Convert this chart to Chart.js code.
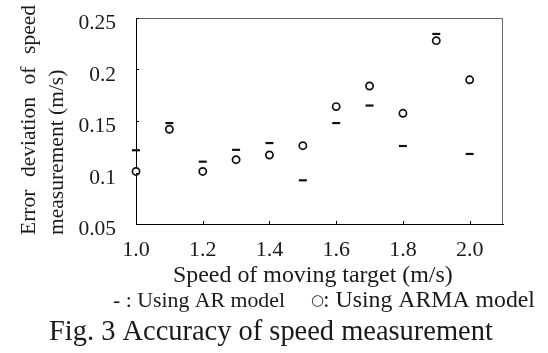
<!DOCTYPE html>
<html>
<head>
<meta charset="utf-8">
<script src="https://cdn.jsdelivr.net/npm/chart.js@4.4.0/dist/chart.umd.min.js"></script>
<style>
body { margin: 0; background: #fff; }
</style>
</head>
<body>
<canvas id="speedChart" width="548" height="353"></canvas>
<script>
var speeds = [1.0, 1.1, 1.2, 1.3, 1.4, 1.5, 1.6, 1.7, 1.8, 1.9, 2.0];
var arError = [0.1216, 0.148, 0.1105, 0.122, 0.1286, 0.0924, 0.148, 0.165, 0.1257, 0.2345, 0.118];
var armaError = [0.101, 0.142, 0.101, 0.1124, 0.117, 0.126, 0.164, 0.184, 0.1575, 0.228, 0.190];
var xTicks = [1.0, 1.2, 1.4, 1.6, 1.8, 2.0];
var xTickLabels = ['1.0', '1.2', '1.4', '1.6', '1.8', '2.0'];
var yTicks = [0.05, 0.1, 0.15, 0.2, 0.25];
var yTickLabels = ['0.05', '0.1', '0.15', '0.2', '0.25'];

var FONT = '"Liberation Serif", "Times New Roman", serif';

function toPoints(xs, ys) {
    return xs.map(function (x, i) { return { x: x, y: ys[i] }; });
}

// shrink/grow font so the text spans the given width
function fitFont(ctx, text, target, base) {
    ctx.font = base + 'px ' + FONT;
    var w = ctx.measureText(text).width;
    var size = base * target / w;
    ctx.font = size + 'px ' + FONT;
    return size;
}

var paperText = {
    id: 'paperText',
    afterDraw: function (chart) {
        var ctx = chart.ctx;
        var area = chart.chartArea;
        var xs = chart.scales.x, ys = chart.scales.y;
        ctx.save();

        // top and right frame
        ctx.strokeStyle = '#666';
        ctx.lineWidth = 1;
        ctx.beginPath();
        ctx.moveTo(area.left, area.top + 0.5);
        ctx.lineTo(area.right - 0.5, area.top + 0.5);
        ctx.lineTo(area.right - 0.5, area.bottom);
        ctx.stroke();

        // inward tick marks
        ctx.strokeStyle = '#000';
        ctx.beginPath();
        yTicks.forEach(function (v) {
            var py = Math.round(ys.getPixelForValue(v)) + 0.5;
            ctx.moveTo(area.left, py);
            ctx.lineTo(area.left + 3, py);
        });
        xTicks.forEach(function (v) {
            var px = Math.round(xs.getPixelForValue(v)) + 0.5;
            ctx.moveTo(px, area.bottom);
            ctx.lineTo(px, area.bottom - 3);
        });
        ctx.stroke();

        ctx.fillStyle = '#1a1a1a';
        // y tick labels
        ctx.font = '21.5px ' + FONT;
        ctx.textAlign = 'right';
        ctx.textBaseline = 'alphabetic';
        yTicks.forEach(function (v, i) {
            ctx.fillText(yTickLabels[i], 116, ys.getPixelForValue(v) + 11);
        });
        // x tick labels
        ctx.font = '22px ' + FONT;
        ctx.textAlign = 'center';
        xTicks.forEach(function (v, i) {
            ctx.fillText(xTickLabels[i], xs.getPixelForValue(v), 256);
        });

        // x title
        ctx.textAlign = 'left';
        var xt = 'Speed of moving target (m/s)';
        fitFont(ctx, xt, 280, 23);
        ctx.fillText(xt, 173, 282);

        // legend line
        var l1 = '- : Using AR model';
        fitFont(ctx, l1, 172, 24);
        ctx.fillText(l1, 113, 307);
        ctx.font = '15px "DejaVu Sans", sans-serif';
        ctx.fillText('\u25CB', 311, 305);
        var l2 = ': Using ARMA model';
        fitFont(ctx, l2, 212, 24);
        ctx.fillText(l2, 323, 307);

        // caption
        var cap = 'Fig. 3 Accuracy of speed measurement';
        fitFont(ctx, cap, 444, 26);
        ctx.fillText(cap, 49, 340);

        // y title, rotated, first line justified
        ctx.rotate(-Math.PI / 2);
        ctx.font = '21.5px ' + FONT;
        var words = ['Error', 'deviation', 'of', 'speed'];
        var start = -235, end = -5;
        var total = 0;
        words.forEach(function (w) { total += ctx.measureText(w).width; });
        var gap = ((end - start) - total) / (words.length - 1);
        var pos = start;
        words.forEach(function (w) {
            ctx.fillText(w, pos, 35);
            pos += ctx.measureText(w).width + gap;
        });
        ctx.fillText('measurement (m/s)', -235, 63);

        ctx.restore();
    }
};

var ctx = document.getElementById('speedChart').getContext('2d');
var speedChart = new Chart(ctx, {
    type: 'scatter',
    data: {
        datasets: [
            {
                label: 'Using AR model',
                data: toPoints(speeds, arError),
                pointStyle: 'line',
                pointRadius: 4,
                borderColor: '#111',
                backgroundColor: '#111',
                pointBorderWidth: 2.2,
                clip: false
            },
            {
                label: 'Using ARMA model',
                data: toPoints(speeds, armaError),
                pointStyle: 'circle',
                pointRadius: 3.6,
                borderColor: '#111',
                backgroundColor: '#fff',
                pointBorderWidth: 1.7,
                clip: false
            }
        ]
    },
    options: {
        responsive: false,
        animation: false,
        layout: { padding: { left: 136, top: 18, right: 45, bottom: 129 } },
        plugins: {
            legend: { display: false },
            tooltip: { enabled: false }
        },
        scales: {
            x: {
                type: 'linear',
                min: 1.0,
                max: 2.1,
                ticks: { display: false },
                grid: { display: false, drawTicks: false },
                border: { display: true, color: '#000', width: 1 }
            },
            y: {
                min: 0.05,
                max: 0.25,
                ticks: { display: false },
                grid: { display: false, drawTicks: false },
                border: { display: true, color: '#000', width: 1 }
            }
        }
    },
    plugins: [paperText]
});
</script>
</body>
</html>
